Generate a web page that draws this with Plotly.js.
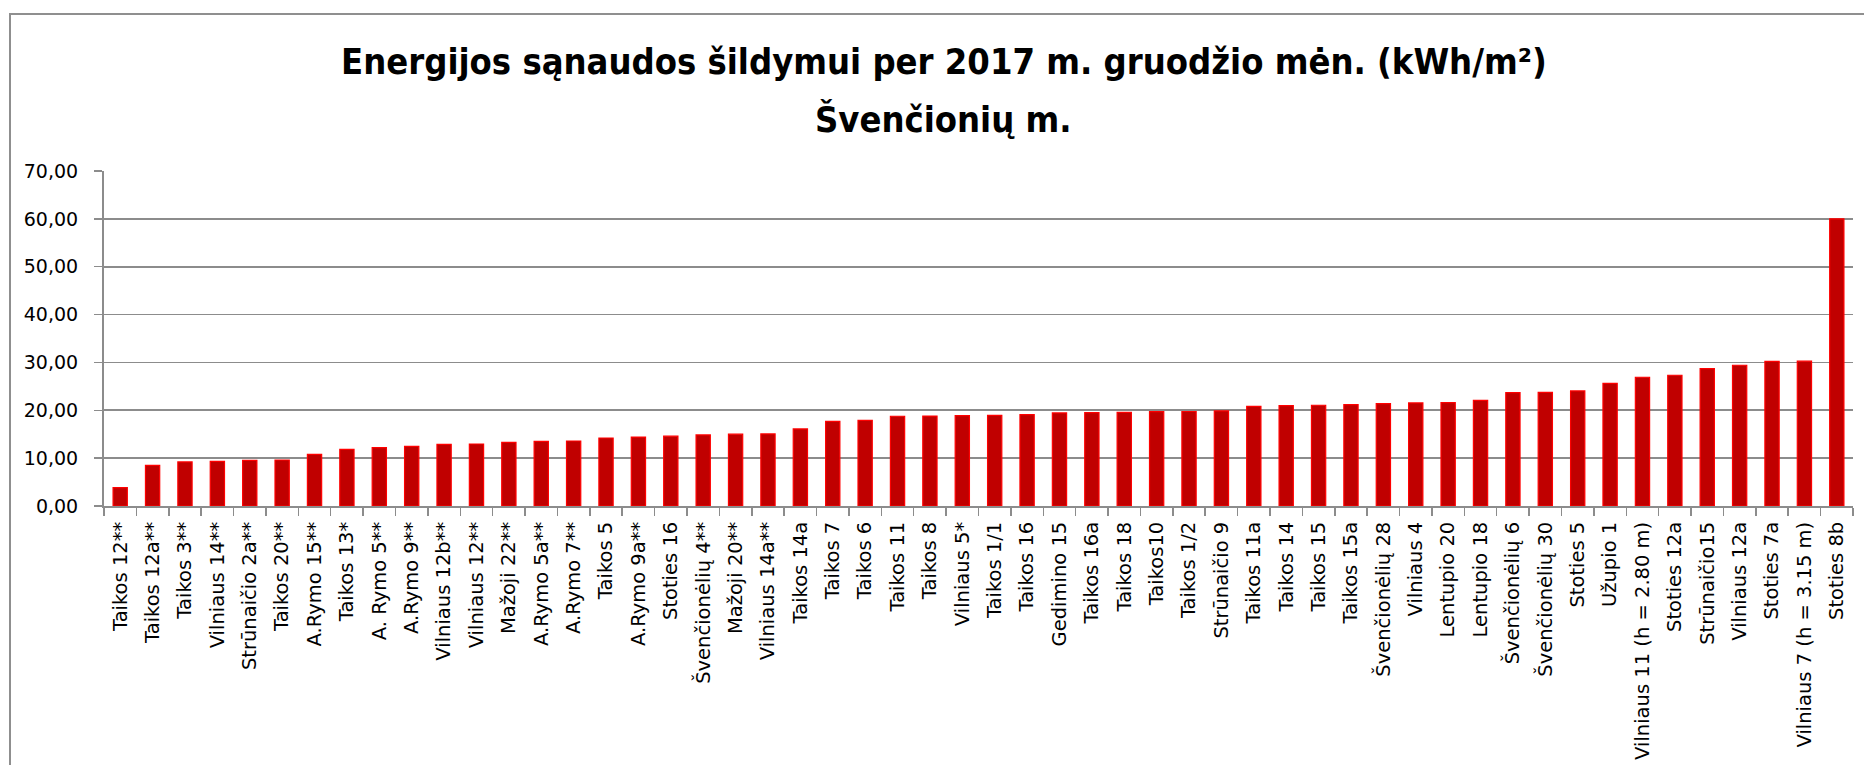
<!DOCTYPE html>
<html>
<head>
<meta charset="utf-8">
<script src="https://cdn.plot.ly/plotly-3.0.1.min.js"></script>
<style>
  html, body { margin: 0; padding: 0; background: #ffffff; overflow: hidden; }
  #frame { position: absolute; left: 9px; top: 13px; width: 1900px; height: 800px;
           border-left: 2.5px solid #8f8f8f; border-top: 2.5px solid #8f8f8f; box-sizing: border-box; }
  #chart { position: absolute; left: 0; top: 0; width: 1864px; height: 765px; }
</style>
</head>
<body>
<div id="frame"></div>
<div id="chart"></div>
<script>
const titleLine1 = "Energijos sąnaudos šildymui per 2017 m. gruodžio mėn. (kWh/m²)";
const titleLine2 = "Švenčionių m.";

const buildings = [
  "Taikos 12**", "Taikos 12a**", "Taikos 3**", "Vilniaus 14**", "Strūnaičio 2a**",
  "Taikos 20**", "A.Rymo 15**", "Taikos 13*", "A. Rymo 5**", "A.Rymo 9**",
  "Vilniaus 12b**", "Vilniaus 12**", "Mažoji 22**", "A.Rymo 5a**", "A.Rymo 7**",
  "Taikos 5", "A.Rymo 9a**", "Stoties 16", "Švenčionėlių 4**", "Mažoji 20**",
  "Vilniaus 14a**", "Taikos 14a", "Taikos 7", "Taikos 6", "Taikos 11",
  "Taikos 8", "Vilniaus 5*", "Taikos 1/1", "Taikos 16", "Gedimino 15",
  "Taikos 16a", "Taikos 18", "Taikos10", "Taikos 1/2", "Strūnaičio 9",
  "Taikos 11a", "Taikos 14", "Taikos 15", "Taikos 15a", "Švenčionėlių 28",
  "Vilniaus 4", "Lentupio 20", "Lentupio 18", "Švenčionėlių 6", "Švenčionėlių 30",
  "Stoties 5", "Užupio 1", "Vilniaus 11 (h = 2.80 m)", "Stoties 12a", "Strūnaičio15",
  "Vilniaus 12a", "Stoties 7a", "Vilniaus 7 (h = 3.15 m)", "Stoties 8b"
];

const energy = [
  3.85, 8.50, 9.20, 9.33, 9.54,
  9.61, 10.79, 11.84, 12.19, 12.47,
  12.88, 12.95, 13.30, 13.51, 13.58,
  14.21, 14.40, 14.58, 14.86, 15.00,
  15.07, 16.10, 17.70, 17.90, 18.75,
  18.80, 18.90, 18.92, 19.10, 19.44,
  19.50, 19.58, 19.72, 19.75, 19.86,
  20.80, 20.98, 21.05, 21.18, 21.39,
  21.53, 21.60, 22.09, 23.69, 23.76,
  24.04, 25.64, 26.90, 27.32, 28.71,
  29.41, 30.24, 30.26, 60.00
];

const yTicks = [0, 10, 20, 30, 40, 50, 60, 70];

const trace = {
  type: "bar",
  x: buildings,
  y: energy,
  marker: { color: "#C00000", line: { color: "#FF0000", width: 1.2 } },
  hoverinfo: "x+y"
};

const tickFont = { family: "DejaVu Sans, sans-serif", size: 19, color: "#000000" };
const xTickFont = { family: "DejaVu Sans, sans-serif", size: 19.5, color: "#000000" };
const titleFont = { family: "DejaVu Sans Condensed, DejaVu Sans, sans-serif", size: 36, weight: "bold", color: "#000000" };

const layout = {
  width: 1864,
  height: 765,
  paper_bgcolor: "rgba(0,0,0,0)",
  plot_bgcolor: "rgba(0,0,0,0)",
  margin: { l: 104, r: 11, t: 171, b: 259, pad: 0 },
  separators: ", ",
  showlegend: false,
  bargap: 0.56,
  title: {
    text: titleLine1,
    font: titleFont,
    x: 0.5064,
    xref: "container",
    xanchor: "center",
    y: 0.920,
    yref: "container",
    yanchor: "middle",
    automargin: false
  },
  annotations: [{
    text: titleLine2,
    font: titleFont,
    showarrow: false,
    xref: "paper",
    yref: "paper",
    x: 0.480,
    xanchor: "center",
    y: 1.155,
    yanchor: "middle"
  }],
  xaxis: {
    type: "category",
    tickangle: -90,
    tickfont: xTickFont,
    ticks: "outside",
    tickson: "boundaries",
    ticklen: 8,
    tickwidth: 1.5,
    tickcolor: "#8c8c8c",
    showline: true,
    linecolor: "#8c8c8c",
    linewidth: 2,
    showgrid: false,
    zeroline: false,
    ticklabelstandoff: 6,
    automargin: false,
    fixedrange: true
  },
  yaxis: {
    range: [0, 70],
    tickmode: "array",
    tickvals: yTicks,
    tickformat: ".2f",
    tickfont: tickFont,
    ticks: "outside",
    ticklen: 8,
    tickwidth: 1.5,
    tickcolor: "#8c8c8c",
    showline: true,
    linecolor: "#8c8c8c",
    linewidth: 2,
    showgrid: true,
    gridcolor: "#8c8c8c",
    gridwidth: 1.6,
    zeroline: false,
    ticklabelstandoff: 12,
    automargin: false,
    fixedrange: true
  }
};

Plotly.newPlot("chart", [trace], layout, { displayModeBar: false, staticPlot: true });
</script>
</body>
</html>
